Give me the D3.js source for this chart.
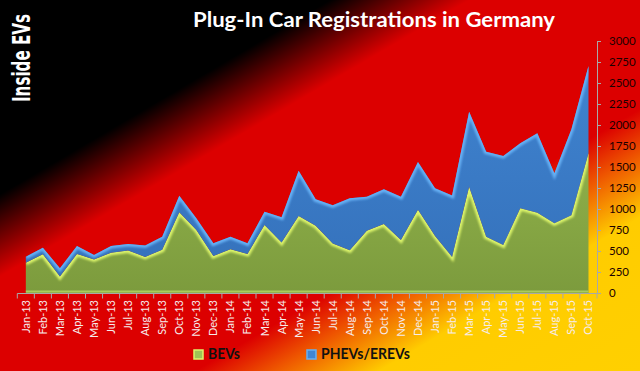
<!DOCTYPE html>
<html>
<head>
<meta charset="utf-8">
<script src="https://cdn.jsdelivr.net/npm/d3@7"></script>
<style>
  body { margin: 0; background: #000; }
  svg { display: block; }
  .xlab { font-family: Lato, "Open Sans", sans-serif; font-size: 11px; fill: #f6ecec; }
  .ylab text { font-family: Lato, "Open Sans", sans-serif; font-size: 11.5px; fill: #1c0000; }
</style>
</head>
<body>
<svg id="chart" width="640" height="371"></svg>
<script>
var months = ["Jan-13","Feb-13","Mar-13","Apr-13","May-13","Jun-13","Jul-13","Aug-13","Sep-13","Oct-13","Nov-13","Dec-13",
              "Jan-14","Feb-14","Mar-14","Apr-14","May-14","Jun-14","Jul-14","Aug-14","Sep-14","Oct-14","Nov-14","Dec-14",
              "Jan-15","Feb-15","Mar-15","Apr-15","May-15","Jun-15","Jul-15","Aug-15","Sep-15","Oct-15"];
var bevs  = [360, 460, 195, 465, 400, 480, 505, 430, 515, 960, 750, 440,
             520, 465, 810, 600, 917, 800, 590, 510, 740, 820, 630, 990,
             680, 430, 1265, 670, 570, 1010, 955, 830, 925, 1665];
var phevs = [72, 79, 99, 95, 52, 80, 78, 135, 155, 198, 140, 151,
             150, 127, 158, 301, 538, 315, 454, 617, 407, 414, 517, 570,
             566, 730, 894, 1013, 1061, 772, 946, 595, 1025, 1037];
var yTickValues = [0, 250, 500, 750, 1000, 1250, 1500, 1750, 2000, 2250, 2500, 2750, 3000];
var seriesNames = ["BEVs", "PHEVs/EREVs"];

var width = 640, height = 371;
var svg = d3.select("#chart");
var defs = svg.append("defs");

// background: black -> red -> gold, diagonal
var bg = defs.append("linearGradient").attr("id", "bg")
  .attr("gradientUnits", "userSpaceOnUse")
  .attr("x1", 0).attr("y1", 0).attr("x2", 327).attr("y2", 555);
[[0, "#000"], [0.26, "#000"], [0.37, "#dc0000"], [0.65, "#dc0000"],
 [0.71, "#ee5500"], [0.795, "#ffcc00"], [1, "#ffd000"]].forEach(function(s) {
  bg.append("stop").attr("offset", s[0]).attr("stop-color", s[1]);
});
svg.append("rect").attr("width", width).attr("height", height).attr("fill", "url(#bg)");

var x = d3.scaleBand().domain(months).range([17.3, 597]);
var y = d3.scaleLinear().domain([0, 3000]).range([293, 41]);
var cx = function(m) { return x(m) + x.bandwidth() / 2; };

var fills = [
  { id: "gFill", top: "#9fc255", bot: "#7c9b3d", edge: "#dcf46a" },
  { id: "bFill", top: "#4186d2", bot: "#3470ba", edge: "#66b0f4" }
];
fills.forEach(function(f) {
  var g = defs.append("linearGradient").attr("id", f.id)
    .attr("gradientUnits", "userSpaceOnUse")
    .attr("x1", 0).attr("y1", 41).attr("x2", 0).attr("y2", 293);
  g.append("stop").attr("offset", 0).attr("stop-color", f.top);
  g.append("stop").attr("offset", 1).attr("stop-color", f.bot);
});
defs.append("filter").attr("id", "soft").attr("x", "-5%").attr("y", "-5%").attr("width", "110%").attr("height", "110%")
  .append("feGaussianBlur").attr("stdDeviation", 1.3);

var rows = months.map(function(m, i) {
  var r = { month: m };
  r[seriesNames[0]] = bevs[i];
  r[seriesNames[1]] = phevs[i];
  return r;
});
var stacked = d3.stack().keys(seriesNames)(rows);

var area = d3.area()
  .x(function(d) { return cx(d.data.month); })
  .y0(function(d) { return y(d[0]); })
  .y1(function(d) { return y(d[1]); });
var topLine = d3.line()
  .x(function(d) { return cx(d.data.month); })
  .y(function(d) { return y(d[1]); });

var layers = svg.append("g");
stacked.forEach(function(s, i) {
  defs.append("clipPath").attr("id", "clip" + i)
    .append("path").attr("d", area(s));
  var g = layers.append("g");
  g.append("path").attr("d", area(s)).attr("fill", "url(#" + fills[i].id + ")");
  g.append("path").attr("d", topLine(s))
    .attr("fill", "none")
    .attr("stroke", fills[i].edge)
    .attr("stroke-width", 5)
    .attr("clip-path", "url(#clip" + i + ")")
    .attr("filter", "url(#soft)");
});
// light floor line
svg.append("line").attr("x1", cx(months[0])).attr("x2", cx(months[months.length - 1]))
  .attr("y1", 291.5).attr("y2", 291.5).attr("stroke", "#a9cc5c").attr("stroke-width", 2);

// x axis
svg.append("line").attr("x1", 17.3).attr("x2", 597).attr("y1", 293.5).attr("y2", 293.5)
  .attr("stroke", "#a8a8a8");
svg.append("g").selectAll("line").data(months.concat(["end"])).join("line")
  .attr("x1", function(d) { return d === "end" ? 597 : x(d); })
  .attr("x2", function(d) { return d === "end" ? 597 : x(d); })
  .attr("y1", 293.5).attr("y2", 298.5)
  .attr("stroke", "#a8a8a8");
svg.append("g").selectAll("text").data(months).join("text")
  .attr("class", "xlab")
  .attr("text-anchor", "end")
  .attr("transform", function(d) { return "translate(" + (cx(d) + 4) + ",300) rotate(-90)"; })
  .text(function(d) { return d; });

// y axis on the right
var yAxis = svg.append("g").attr("class", "ylab")
  .attr("transform", "translate(597,0)")
  .call(d3.axisRight(y).tickValues(yTickValues).tickFormat(d3.format("d"))
    .tickSize(4).tickSizeOuter(0).tickPadding(8));
yAxis.selectAll("path, line").attr("stroke", "#a8a8a8");

// title
svg.append("text")
  .attr("x", 374).attr("y", 27)
  .attr("text-anchor", "middle")
  .attr("textLength", 362).attr("lengthAdjust", "spacingAndGlyphs")
  .style("font-family", "Lato, 'Open Sans', sans-serif")
  .style("font-weight", "bold")
  .style("font-size", "20px")
  .attr("fill", "#fff")
  .text("Plug-In Car Registrations in Germany");

// watermark, squeezed to the reference length with a scale
var wm = svg.append("text")
  .style("font-family", "'DejaVu Sans Condensed', sans-serif")
  .style("font-weight", "bold")
  .style("font-size", "24px")
  .attr("fill", "#fff")
  .text("Inside EVs");
var wmLen = wm.node().getComputedTextLength();
wm.attr("transform", "translate(30,102) rotate(-90) scale(" + (88 / wmLen) + ",1)");

// legend
var legend = svg.append("g");
var legX = [194, 307];
var legW = [32, 89];
seriesNames.forEach(function(n, i) {
  legend.append("rect").attr("x", legX[i]).attr("y", 350).attr("width", 9).attr("height", 9)
    .attr("fill", fills[i].top).attr("stroke", fills[i].edge).attr("stroke-width", 1.5);
  legend.append("text").attr("x", legX[i] + 14).attr("y", 359)
    .attr("textLength", legW[i]).attr("lengthAdjust", "spacingAndGlyphs")
    .style("font-family", "Lato, 'Open Sans', sans-serif")
    .style("font-size", "16px")
    .style("font-weight", "bold")
    .attr("fill", "#111")
    .text(n);
});
</script>
</body>
</html>
